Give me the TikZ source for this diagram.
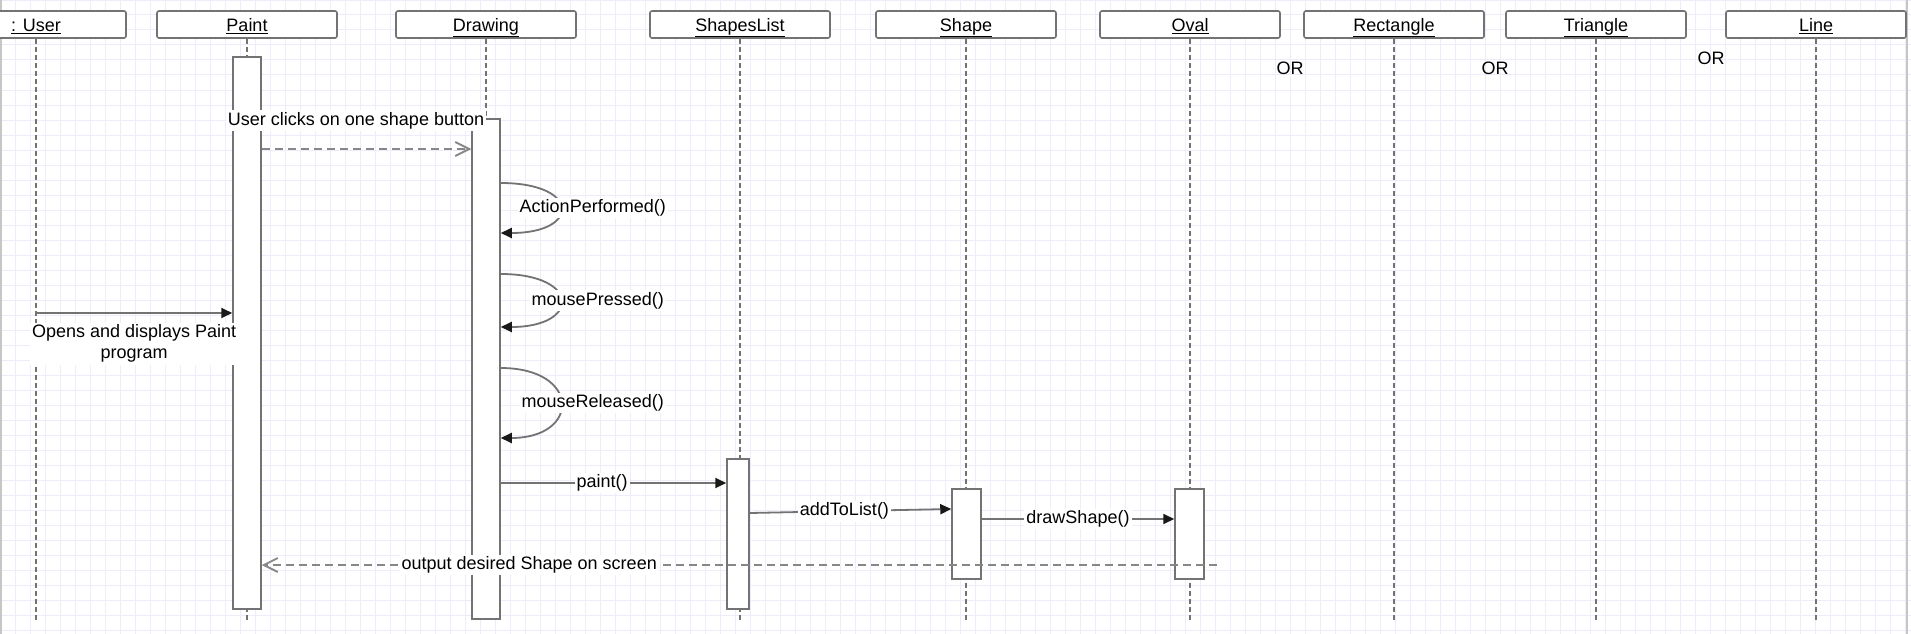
\documentclass[tikz,border=0pt]{standalone}
\usepackage{fontspec}
\setmainfont{Liberation Sans}
\usetikzlibrary{arrows.meta, positioning}
\definecolor{gridcol}{RGB}{236,236,250}
\definecolor{linegray}{RGB}{115,115,115}
\definecolor{dashgray}{RGB}{135,135,135}
\tikzset{
	lifebox/.style={draw=linegray, line width=1.6pt, fill=white, rounded corners=2pt, minimum width=180pt, minimum height=27pt, inner sep=0pt, text height=15pt, text depth=1pt},
	actbar/.style={draw=linegray, line width=1.5pt, fill=white, inner sep=0pt},
	lifeline/.style={draw=linegray, line width=1.5pt, dash pattern=on 5pt off 3pt},
	msg/.style={draw=linegray, line width=1.8pt, -{Triangle[length=11pt, width=10pt, color=black!90]}},
	reply/.style={draw=dashgray, line width=1.8pt, dash pattern=on 8pt off 5pt, -{Straight Barb[length=14pt, width=14pt]}},
	lbl/.style={fill=white, inner sep=2pt},
}

\begin{document}
\begin{tikzpicture}[x=1pt, y=-1pt, font={\fontsize{18}{21}\selectfont}]
	\fill [white] (0,0) rectangle (1911,634);
	\useasboundingbox (0,0) rectangle (1911,634);
	\draw [gridcol, line width=1pt, step=15pt] (0,0) grid (1911,634);
	\draw [gray!45, line width=2pt] (1,0) -- (1,634);
	\draw [gray!45, line width=2pt] (1907,0) -- (1907,634);

	% objects
	\node [lifebox] (user) at (36,24.5) {\underline{: User}};
	\node [lifebox] (paint) at (247,24.5) {\underline{Paint}};
	\node [lifebox] (drawing) at (486,24.5) {\underline{Drawing}};
	\node [lifebox] (shapes) at (740,24.5) {\underline{ShapesList}};
	\node [lifebox] (shape) at (966,24.5) {\underline{Shape}};
	\node [lifebox] (oval) at (1190,24.5) {\underline{Oval}};
	\node [lifebox] (rect) at (1394,24.5) {\underline{Rectangle}};
	\node [lifebox] (tri) at (1596,24.5) {\underline{Triangle}};
	\node [lifebox] (line) at (1816,24.5) {\underline{Line}};

	\node (or1) at (1290,68) {OR};
	\node (or2) at (1495,68) {OR};
	\node (or3) at (1711,58) {OR};

	% lifelines
	\coordinate (lifeend) at (0,622);
	\draw [lifeline] (user) -- (user |- lifeend);
	\draw [lifeline] (paint) -- (paint |- lifeend);
	\draw [lifeline] (drawing) -- (drawing |- lifeend);
	\draw [lifeline] (shapes) -- (shapes |- lifeend);
	\draw [lifeline] (shape) -- (shape |- lifeend);
	\draw [lifeline] (oval) -- (oval |- lifeend);
	\draw [lifeline] (rect) -- (rect |- lifeend);
	\draw [lifeline] (tri) -- (tri |- lifeend);
	\draw [lifeline] (line) -- (line |- lifeend);

	% activations
	\node [actbar, minimum width=28pt, minimum height=552pt] (paintbar) at (247,333) {};
	\node [actbar, minimum width=28pt, minimum height=500pt] (drawbar) at (486,369) {};
	\node [actbar, minimum width=22pt, minimum height=150pt] (listbar) at (738,534) {};
	\node [actbar, minimum width=29pt, minimum height=90pt] (shapebar) at (966.5,534) {};
	\node [actbar, minimum width=29pt, minimum height=90pt] (ovalbar) at (1189.5,534) {};

	% messages
	\coordinate (open) at (0,313);
	\draw [msg] (user |- open) -- (paintbar.west |- open) node [midway, below=9pt, lbl, align=center] {Opens and displays Paint\\program};
	\coordinate (click) at (0,149);
	\draw [reply] (paintbar.east |- click) -- (drawbar.west |- click) node [pos=0.45, above=17pt, lbl] {User clicks on one shape button};

	\coordinate (act1) at (0,183);
	\coordinate (act2) at (0,233);
	\draw [msg] (drawbar.east |- act1) .. controls +(80,0) and +(80,0) .. (drawbar.east |- act2) node [pos=0.5, xshift=32pt, lbl] {ActionPerformed()};
	\coordinate (press1) at (0,274);
	\coordinate (press2) at (0,327);
	\draw [msg] (drawbar.east |- press1) .. controls +(80,0) and +(80,0) .. (drawbar.east |- press2) node [pos=0.5, xshift=37pt, lbl] {mousePressed()};
	\coordinate (rel1) at (0,368);
	\coordinate (rel2) at (0,438);
	\draw [msg] (drawbar.east |- rel1) .. controls +(80,0) and +(80,0) .. (drawbar.east |- rel2) node [pos=0.5, xshift=32pt, lbl] {mouseReleased()};

	\coordinate (pnt) at (0,483);
	\draw [msg] (drawbar.east |- pnt) -- (listbar.west |- pnt) node [pos=0.45, lbl] {paint()};
	\coordinate (add1) at (0,513);
	\coordinate (add2) at (0,509);
	\draw [msg] (listbar.east |- add1) -- (shapebar.west |- add2) node [pos=0.47, lbl] {addToList()};
	\coordinate (drw) at (0,519);
	\draw [msg] (shapebar.east |- drw) -- (ovalbar.west |- drw) node [midway, lbl] {drawShape()};

	%\draw [reply] (ovalbar.east |- 0,565) -- (paintbar.east |- 0,565);
	\coordinate (retend) at (1217,565);
	\draw [reply] (retend) -- (paintbar.east |- retend) node [pos=0.72, lbl] {output desired Shape on screen};
\end{tikzpicture}
\end{document}
